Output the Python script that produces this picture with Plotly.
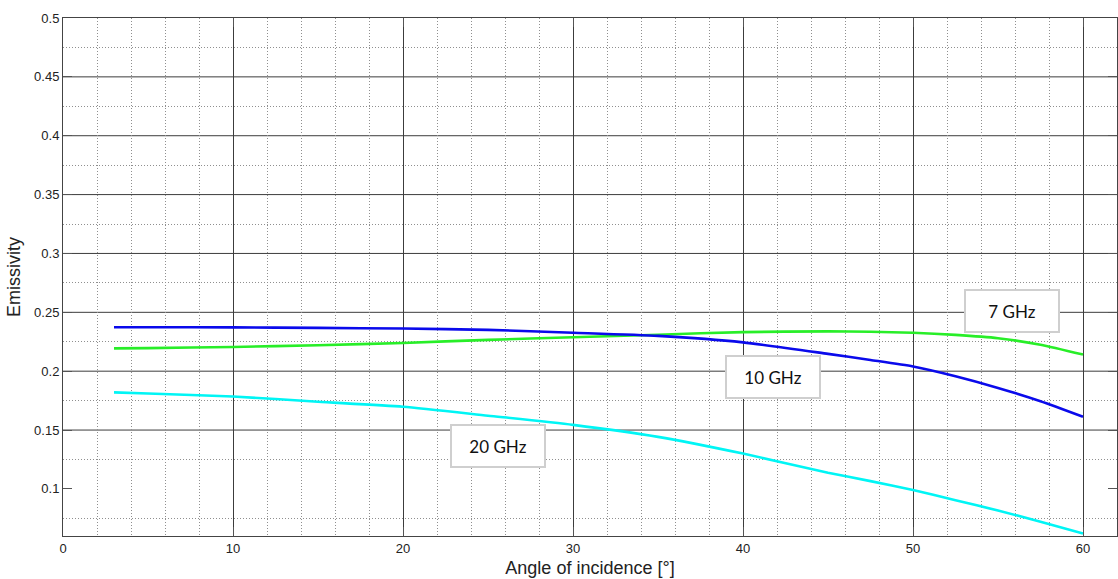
import plotly.graph_objects as go

# Angle of incidence [deg]
angle = [3, 5, 10, 15, 20, 25, 30, 35, 40, 45, 47.5, 50, 52.5, 55, 57.5, 60]

# Emissivity per frequency
emis_7ghz = [0.2194, 0.2196, 0.2206, 0.2220, 0.2240, 0.2266, 0.2288, 0.2310, 0.2332,
             0.2338, 0.2335, 0.2326, 0.2308, 0.2280, 0.2225, 0.2141]
emis_10ghz = [0.2373, 0.2373, 0.2372, 0.2368, 0.2362, 0.2351, 0.2327, 0.2300, 0.2245,
              0.2147, 0.2095, 0.2040, 0.1957, 0.1858, 0.1745, 0.1613]
emis_20ghz = [0.1820, 0.1810, 0.1785, 0.1740, 0.1698, 0.1622, 0.1544, 0.1442, 0.1300,
              0.1138, 0.1066, 0.0990, 0.0904, 0.0816, 0.0722, 0.0622]

series_names = ["7 GHz", "10 GHz", "20 GHz"]
series_colors = ["rgb(40,238,40)", "rgb(10,10,235)", "rgb(0,245,245)"]

# Label boxes: (text, x, y)
label_text = ["7 GHz", "10 GHz", "20 GHz"]
label_x = [55.8, 41.75, 25.6]
label_y = [0.2507, 0.1949, 0.1365]

# Solid horizontal grid levels
y_major_grid = [0.15, 0.2, 0.25, 0.3, 0.35, 0.4, 0.45]

fig = go.Figure()
for name, ys, col in zip(series_names, [emis_7ghz, emis_10ghz, emis_20ghz], series_colors):
    fig.add_trace(go.Scatter(x=angle, y=ys, mode="lines", name=name,
                             line=dict(color=col, width=2.6, shape="spline", smoothing=0.6)))

grid_major = "#3c3c3c"
grid_minor = "#8f8f8f"
minor_dash = "1px,2px"

for yv in y_major_grid:
    fig.add_shape(type="line", xref="paper", yref="y", x0=0, x1=1, y0=yv, y1=yv,
                  line=dict(color=grid_major, width=1), layer="below")

for t, xv, yv in zip(label_text, label_x, label_y):
    fig.add_annotation(x=xv, y=yv, xref="x", yref="y", text=t, showarrow=False,
                       font=dict(family="Lato", size=17, color="#111111"),
                       bgcolor="white", bordercolor="#cfcfcf", borderwidth=2,
                       borderpad=1, width=90, height=38, align="center", valign="middle")

axis_font = dict(family="Liberation Sans, Arial", size=13, color="#222222")

fig.update_layout(
    width=1118, height=579,
    margin=dict(l=63, r=1, t=18, b=43),
    paper_bgcolor="white", plot_bgcolor="white",
    showlegend=False,
    xaxis=dict(
        range=[0, 62], tick0=0, dtick=10, tickfont=axis_font,
        showgrid=True, gridcolor=grid_major, gridwidth=1,
        zeroline=False, showline=True, linecolor="#444444", linewidth=1, mirror="ticks",
        ticks="inside", ticklen=9, tickcolor="#555555",
        minor=dict(dtick=2, tick0=0, showgrid=True, gridcolor=grid_minor, griddash=minor_dash, gridwidth=1),
        title=dict(text="Angle of incidence [°]", standoff=6,
                   font=dict(family="Liberation Sans, Arial", size=18, color="#222222")),
    ),
    yaxis=dict(
        range=[0.06, 0.5], tick0=0, dtick=0.05, tickfont=axis_font,
        showgrid=False,
        zeroline=False, showline=True, linecolor="#444444", linewidth=1, mirror="ticks",
        ticks="inside", ticklen=9, tickcolor="#555555",
        minor=dict(dtick=0.025, tick0=0, showgrid=True, gridcolor=grid_minor, griddash=minor_dash, gridwidth=1),
        title=dict(text="Emissivity", standoff=8,
                   font=dict(family="Liberation Sans, Arial", size=18, color="#222222")),
    ),
)

fig.write_html("out.html")
